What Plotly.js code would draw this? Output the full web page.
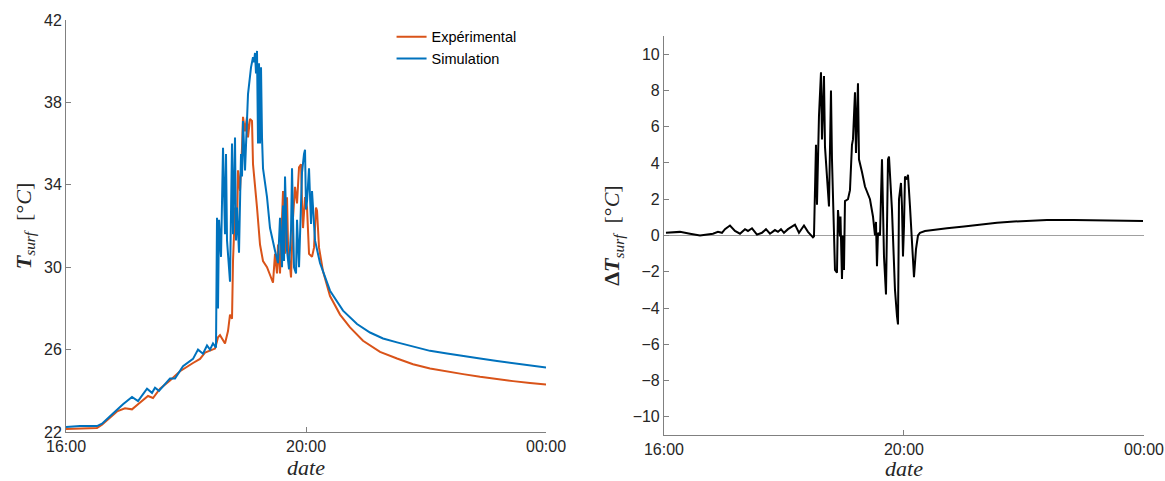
<!DOCTYPE html>
<html>
<head>
<meta charset="utf-8">
<script src="https://cdn.plot.ly/plotly-3.0.1.min.js"></script>
<style>html,body{margin:0;padding:0;background:#fff;}#chart{width:1165px;height:481px;}</style>
</head>
<body>
<div id="chart"></div>
<script>
// Minutes after 16:00 and values
const expMin = [0,31,36,51,59,66,72,82,87,94,104,114,127,134,139,144,149,151,152,154,159,162,164,166,167,169,171,172,174,176,177,179,181,182,184,186,187,191,194,197,201,205,207,209,211,212,214,217,219,221,222,225,227,229,231,233,235,236,237,239,241,243,246,248,250,251,253,257,264,274,284,297,314,331,347,364,381,397,414,431,447,464,480];
const expVal = [22.15,22.2,22.35,23.0,23.15,23.1,23.35,23.75,23.65,24.1,24.5,24.95,25.35,25.55,25.85,25.95,26.05,26.4,26.6,26.7,26.3,26.9,27.7,27.5,30.3,32.9,31.9,34.7,33.7,35.8,37.3,36.6,37.3,36.3,37.2,37.1,35.0,32.9,31.1,30.3,30.0,29.5,29.25,30.65,29.7,31.1,29.7,33.7,30.65,33.4,31.1,29.5,32.4,33.9,33.1,34.85,35.0,33.1,31.9,33.4,32.9,30.65,30.5,30.95,32.9,32.75,30.95,29.8,28.6,27.7,27.08,26.43,25.89,25.57,25.29,25.08,24.93,24.81,24.68,24.56,24.47,24.38,24.3];

const simMin = [0,14,31,36,47,57,66,72,81,86,89,93,104,109,117,127,132,137,141,144,147,150,151,152,153,155,157,159,160,161,164,166,167,169,170,171,173,175,176,177,179,181,182,185,187,188,189,190,191,192,193,194,195,196,197,201,204,209,212,214,216,217,218,219,221,223,225,226,228,230,231,233,235,236,238,239,240,241,243,245,246,247,249,254,261,264,277,291,304,317,331,347,364,381,397,414,431,447,464,480];
const simVal = [22.24,22.29,22.29,22.4,22.9,23.35,23.7,23.5,24.1,23.9,24.15,24.0,24.6,24.6,25.2,25.55,26.0,25.8,26.2,26.0,26.3,26.1,32.4,28.0,32.3,30.5,35.8,31.6,35.5,31.3,29.3,36.0,31.6,36.3,31.3,32.9,30.7,35.5,34.4,37.1,34.7,37.6,38.4,39.7,40.2,39.95,40.4,39.4,40.5,36.0,39.9,36.0,39.7,36.3,34.8,33.4,31.9,30.8,30.2,32.4,30.0,33.0,30.3,34.4,30.8,29.9,31.8,34.8,30.0,29.7,32.3,30.0,32.9,34.6,35.5,35.7,32.8,33.2,34.8,32.1,33.7,32.9,31.3,30.2,29.2,28.86,27.89,27.24,26.83,26.54,26.35,26.14,25.94,25.81,25.68,25.57,25.45,25.34,25.23,25.13];

const diffMin = [2,16,26,36,49,54,58,61,66,71,76,81,84,88,93,98,102,106,111,114,117,120,124,131,135,140,144,149,150,152,153,155,157,158,160,161,163,165,167,168,170,171,173,174,176,176.5,178,179,180,181,184,186,188,189,191,192,194,195,198,201,206,209,211,212,213,214,216,218,220,222,224,225,228,231,233,234,235,237,238,239,240,241,243,244,246,248,250,252,254,256,261,269,274,283,300,316,333,350,366,383,410,433,456,479];
const diffVal = [0.15,0.2,0.1,0.0,0.1,0.2,0.15,0.35,0.55,0.25,0.1,0.35,0.25,0.4,0.05,0.15,0.35,0.1,0.3,0.2,0.35,0.15,0.35,0.6,0.15,0.55,0.2,-0.1,-0.05,5.0,1.7,6.6,9.0,5.3,8.8,4.9,3.25,1.6,8.0,4.2,0.15,-1.9,-2.05,1.4,-0.05,1.05,-2.4,0.0,-1.9,1.9,2.0,2.5,5.0,5.3,7.9,4.55,8.4,4.2,3.5,2.7,2.0,1.05,0.0,0.75,-1.7,0.15,0.0,4.2,-1.15,-3.25,4.2,4.35,1.4,-3.0,-4.45,-4.9,2.0,2.9,1.6,-1.15,0.5,3.25,3.1,3.35,1.6,-0.75,-2.3,-0.75,0.0,0.15,0.25,0.3,0.35,0.4,0.5,0.6,0.7,0.77,0.82,0.85,0.86,0.85,0.83,0.8];

const tickMin = [0, 240, 480];
const tickLabels = ['16:00', '20:00', '00:00'];
const tempTicks = [22, 26, 30, 34, 38, 42];
const diffTicks = [-10, -8, -6, -4, -2, 0, 2, 4, 6, 8, 10];

function toDate(m) {
  const d = new Date(2024, 0, 1, 16, 0, 0);
  d.setTime(d.getTime() + m * 60000);
  const p = n => String(n).padStart(2, '0');
  return d.getFullYear() + '-' + p(d.getMonth() + 1) + '-' + p(d.getDate()) + ' ' + p(d.getHours()) + ':' + p(d.getMinutes()) + ':' + p(d.getSeconds());
}

const axisColor = '#808080';
const tickFont = {family: 'Liberation Sans, Arial, sans-serif', size: 16, color: '#262626'};
const titleFont = {family: 'Liberation Serif, DejaVu Serif, serif', size: 22, color: '#262626'};

function xaxisCfg(domain) {
  return {
    type: 'date', domain: domain,
    range: [toDate(0), toDate(480)],
    tickvals: tickMin.map(toDate), ticktext: tickLabels,
    ticks: 'inside', ticklen: 5, tickcolor: axisColor, tickwidth: 1,
    showline: true, linecolor: axisColor, linewidth: 1, mirror: false,
    showgrid: false, zeroline: false, tickfont: tickFont,
    title: {text: '<i>date</i>', font: titleFont, standoff: 2}
  };
}

const traces = [
  {x: expMin.map(toDate), y: expVal, type: 'scatter', mode: 'lines', name: 'Expérimental',
   line: {color: '#D95319', width: 2}, xaxis: 'x', yaxis: 'y'},
  {x: simMin.map(toDate), y: simVal, type: 'scatter', mode: 'lines', name: 'Simulation',
   line: {color: '#0072BD', width: 2}, xaxis: 'x', yaxis: 'y'},
  {x: diffMin.map(toDate), y: diffVal, type: 'scatter', mode: 'lines', name: 'ΔT',
   line: {color: '#000000', width: 2}, xaxis: 'x2', yaxis: 'y2', showlegend: false}
];

const layout = {
  width: 1165, height: 481,
  margin: {l: 66, r: 21, t: 20, b: 46},
  paper_bgcolor: '#ffffff', plot_bgcolor: '#ffffff',
  showlegend: true,
  legend: {x: 0.302, y: 0.998, xanchor: 'left', yanchor: 'top', bgcolor: 'rgba(0,0,0,0)',
           font: {family: 'Liberation Sans, Arial, sans-serif', size: 14.5, color: '#000'},
           itemwidth: 30, tracegroupgap: 0},
  xaxis: xaxisCfg([0, 0.4453]),
  xaxis2: Object.assign(xaxisCfg([0.5547, 1]), {anchor: 'y2'}),
  yaxis: {
    domain: [0.0072, 1], range: [22, 42], tickvals: tempTicks,
    ticks: 'inside', ticklen: 5, tickcolor: axisColor, tickwidth: 1,
    showline: true, linecolor: axisColor, linewidth: 1,
    showgrid: false, zeroline: false, tickfont: tickFont, anchor: 'x',
    title: {text: '<b><i>T</i></b><sub><i>surf</i></sub>  [°<i>C</i>]', font: titleFont, standoff: 6}
  },
  yaxis2: {
    domain: [0, 0.9614], range: [-11, 11], tickvals: diffTicks,
    ticks: 'inside', ticklen: 5, tickcolor: axisColor, tickwidth: 1,
    showline: true, linecolor: axisColor, linewidth: 1,
    showgrid: false, zeroline: true, zerolinecolor: '#a0a0a0', zerolinewidth: 1.5,
    tickfont: tickFont, anchor: 'x2',
    title: {text: '<b>Δ<i>T</i></b><sub><i>surf</i></sub>  [°<i>C</i>]', font: titleFont, standoff: 6}
  }
};
layout.xaxis.anchor = 'y';

Plotly.newPlot('chart', traces, layout, {displayModeBar: false, staticPlot: true});
</script>
</body>
</html>
